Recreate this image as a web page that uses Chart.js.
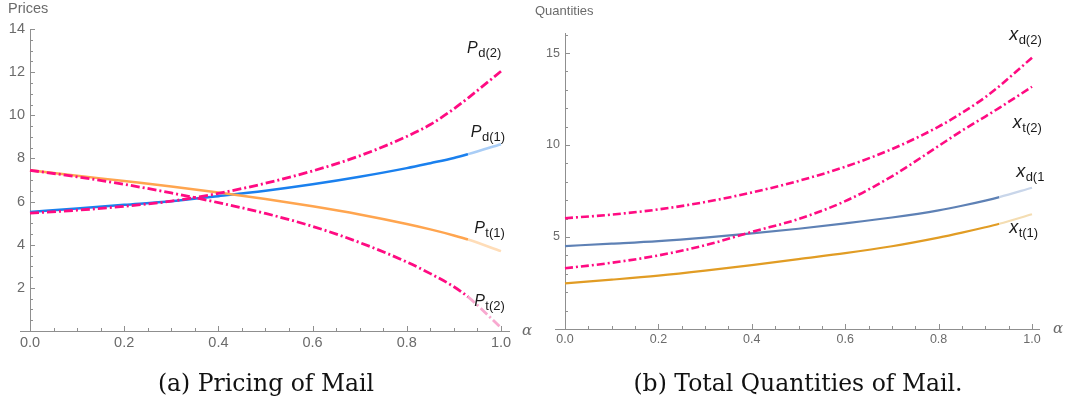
<!DOCTYPE html>
<html>
<head>
<meta charset="utf-8">
<script src="https://cdn.jsdelivr.net/npm/chart.js@4/dist/chart.umd.min.js"></script>
<style>
  html, body { margin: 0; padding: 0; background: #fff; }
  #wrap { position: relative; width: 1070px; height: 408px; background: #fff; overflow: hidden; }
  canvas { position: absolute; top: 0; }
  #c1 { left: 0; }
  #c2 { left: 535px; }
  .cap { position: absolute; top: 369px; font-family: "DejaVu Serif", serif; font-size: 23.5px; color: #111; white-space: nowrap; transform: translateX(-50%); }
</style>
</head>
<body>
<div id="wrap">
  <canvas id="c1" width="535" height="408"></canvas>
  <canvas id="c2" width="535" height="408"></canvas>
  <div class="cap" style="left:266px">(a) Pricing of Mail</div>
  <div class="cap" style="left:798px">(b) Total Quantities of Mail.</div>
</div>
<script>
// ---- data ----
const alpha = [0, 0.1, 0.2, 0.3, 0.4, 0.5, 0.6, 0.7, 0.8, 0.85, 0.9, 0.93, 1.0];

// (a) Prices
const pD2 = [5.46, 5.60, 5.78, 6.02, 6.38, 6.85, 7.42, 8.12, 9.02, 9.57, 10.30, 10.80, 12.04];
const pD1 = [5.52, 5.68, 5.85, 6.02, 6.25, 6.50, 6.80, 7.15, 7.55, 7.78, 8.02, 8.20, 8.66];
const pT1 = [7.45, 7.20, 6.95, 6.70, 6.42, 6.12, 5.78, 5.40, 4.96, 4.71, 4.43, 4.24, 3.70];
const pT2 = [7.45, 7.15, 6.80, 6.40, 5.95, 5.45, 4.85, 4.10, 3.20, 2.66, 2.05, 1.58, 0.15];

// (b) Quantities
const xD2 = [6.02, 6.22, 6.50, 6.90, 7.42, 8.05, 8.82, 9.78, 11.00, 11.75, 12.60, 13.20, 14.75];
const xT2 = [3.30, 3.60, 4.00, 4.55, 5.28, 5.98, 6.95, 8.30, 9.95, 10.78, 11.55, 12.02, 13.17];
const xD1 = [4.51, 4.64, 4.78, 4.97, 5.20, 5.45, 5.74, 6.06, 6.45, 6.70, 6.98, 7.17, 7.68];
const xT1 = [2.48, 2.68, 2.90, 3.17, 3.47, 3.80, 4.12, 4.50, 4.97, 5.24, 5.53, 5.72, 6.24];

// ticks
const alphaTicks = [0, 0.2, 0.4, 0.6, 0.8, 1.0];
const alphaTickLabels = ["0.0", "0.2", "0.4", "0.6", "0.8", "1.0"];
const priceTicks = [2, 4, 6, 8, 10, 12, 14];
const quantityTicks = [5, 10, 15];

const fadeAt = 0.93;

function series(label, vals, color, light, dash, width) {
  const ds = {
    label: label,
    data: alpha.map((a, i) => ({ x: a, y: vals[i] })),
    borderColor: color,
    borderWidth: width,
    borderDash: dash || [],
    pointRadius: 0,
    fill: false,
    cubicInterpolationMode: 'monotone',
    clip: false
  };
  if (light) {
    ds.segment = { borderColor: ctx => (ctx.p0.parsed.x >= fadeAt - 1e-9 ? light : color) };
  }
  return ds;
}

const AXIS = '#8f8f8f';
const TXT = '#6b6b6b';

function axesPlugin(cfg) {
  return {
    id: 'axes_' + cfg.id,
    beforeDatasetsDraw(chart) {
      const c = chart.ctx, xs = chart.scales.x, ys = chart.scales.y, ca = chart.chartArea;
      const x0 = xs.getPixelForValue(0), y0 = ys.getPixelForValue(0);
      c.save();
      c.strokeStyle = AXIS; c.lineWidth = 1;
      c.beginPath();
      c.moveTo(ca.left, Math.round(y0) + 0.5); c.lineTo(ca.right, Math.round(y0) + 0.5);
      c.moveTo(Math.round(x0) + 0.5, Math.round(y0)); c.lineTo(Math.round(x0) + 0.5, ca.top);
      // x ticks
      for (let k = 0; k <= 20; k++) {
        const v = k * 0.05;
        const px = Math.round(xs.getPixelForValue(v)) + 0.5;
        const len = (k % 4 === 0) ? 5 : 3;
        c.moveTo(px, Math.round(y0)); c.lineTo(px, Math.round(y0) - len);
      }
      // y ticks
      for (let v = cfg.minorStep; v <= ys.max + 1e-9; v += cfg.minorStep) {
        const py = Math.round(ys.getPixelForValue(v)) + 0.5;
        const major = cfg.yTicks.some(t => Math.abs(t - v) < 1e-6);
        c.moveTo(Math.round(x0), py); c.lineTo(Math.round(x0) + (major ? 5 : 3), py);
      }
      c.stroke();
      // tick labels
      c.fillStyle = TXT;
      c.font = cfg.tickFont + 'px "Liberation Sans", Arial, sans-serif';
      c.textAlign = 'center'; c.textBaseline = 'middle';
      alphaTicks.forEach((v, i) => c.fillText(alphaTickLabels[i], xs.getPixelForValue(v), y0 + cfg.xLabelOff));
      c.textAlign = 'right';
      cfg.yTicks.forEach(v => c.fillText(String(v), x0 - cfg.yLabelOff, ys.getPixelForValue(v)));
      // axis titles
      c.textAlign = 'left'; c.textBaseline = 'alphabetic';
      c.font = cfg.titleFont + 'px "Liberation Sans", Arial, sans-serif';
      c.fillText(cfg.title, cfg.titleX, cfg.titleY);
      c.font = 'italic 15px "DejaVu Serif", serif';
      c.fillText('α', cfg.alphaX, cfg.alphaY);
      c.restore();
    },
    afterDraw(chart) {
      const c = chart.ctx, xs = chart.scales.x, ys = chart.scales.y;
      c.save();
      c.fillStyle = '#1a1a1a';
      c.textAlign = 'left'; c.textBaseline = 'alphabetic';
      cfg.labels.forEach(L => {
        const px = xs.getPixelForValue(L.a), py = ys.getPixelForValue(L.v);
        c.font = 'italic ' + cfg.mainFont + 'px "Liberation Sans", Arial, sans-serif';
        c.fillText(L.main, px, py);
        const w = c.measureText(L.main).width;
        c.font = cfg.subFont + 'px "Liberation Sans", Arial, sans-serif';
        c.fillText(L.sub, px + w + 0.5, py + 4);
      });
      c.restore();
    }
  };
}

function makeChart(id, datasets, xmin, xmax, ymax, pad, plugCfg) {
  return new Chart(document.getElementById(id), {
    type: 'line',
    data: { datasets: datasets },
    options: {
      responsive: false,
      animation: false,
      events: [],
      layout: { padding: pad },
      plugins: { legend: { display: false }, tooltip: { enabled: false } },
      scales: {
        x: { type: 'linear', min: xmin, max: xmax, display: false },
        y: { type: 'linear', min: 0, max: ymax, display: false }
      }
    },
    plugins: [axesPlugin(plugCfg)]
  });
}

const MAG = '#FF0B82';
const dashA = [9, 3, 2, 3];

makeChart('c1', [
  series('P_d(2)', pD2, MAG, null, dashA, 2.8),
  series('P_t(2)', pT2, MAG, '#F8A9D0', dashA, 2.8),
  series('P_t(1)', pT1, '#FFA54F', '#FFDDB8', [], 2.5),
  series('P_d(1)', pD1, '#1A80EE', '#A9CDF6', [], 2.5)
], -0.0212, 1.0191, 14, { left: 20, right: 25, top: 29, bottom: 77 }, {
  id: 'a', yTicks: priceTicks, minorStep: 0.5, tickFont: 14.5, xLabelOff: 12, yLabelOff: 5,
  title: 'Prices', titleFont: 14.5, titleX: 8, titleY: 13, alphaX: 522, alphaY: 335,
  mainFont: 16, subFont: 13,
  labels: [
    { main: 'P', sub: 'd(2)', a: 0.928, v: 12.87 },
    { main: 'P', sub: 'd(1)', a: 0.936, v: 8.98 },
    { main: 'P', sub: 't(1)', a: 0.943, v: 4.54 },
    { main: 'P', sub: 't(2)', a: 0.943, v: 1.16 }
  ]
});

const dashB = [8, 3, 2, 3];
makeChart('c2', [
  series('x_d(2)', xD2, MAG, null, dashB, 2.6),
  series('x_t(2)', xT2, MAG, null, dashB, 2.6),
  series('x_d(1)', xD1, '#5E81B5', '#C9D6EA', [], 2.2),
  series('x_t(1)', xT1, '#E19C24', '#F4DDB2', [], 2.2)
], -0.0214, 1.0171, 16.09, { left: 20, right: 30, top: 33, bottom: 79 }, {
  id: 'b', yTicks: quantityTicks, minorStep: 1, tickFont: 12.5, xLabelOff: 11, yLabelOff: 5,
  title: 'Quantities', titleFont: 13, titleX: 0, titleY: 15, alphaX: 518, alphaY: 333,
  mainFont: 18, subFont: 13,
  labels: [
    { main: 'x', sub: 'd(2)', a: 0.951, v: 15.71 },
    { main: 'x', sub: 't(2)', a: 0.959, v: 10.92 },
    { main: 'x', sub: 'd(1', a: 0.966, v: 8.26 },
    { main: 'x', sub: 't(1)', a: 0.951, v: 5.22 }
  ]
});
</script>
</body>
</html>
